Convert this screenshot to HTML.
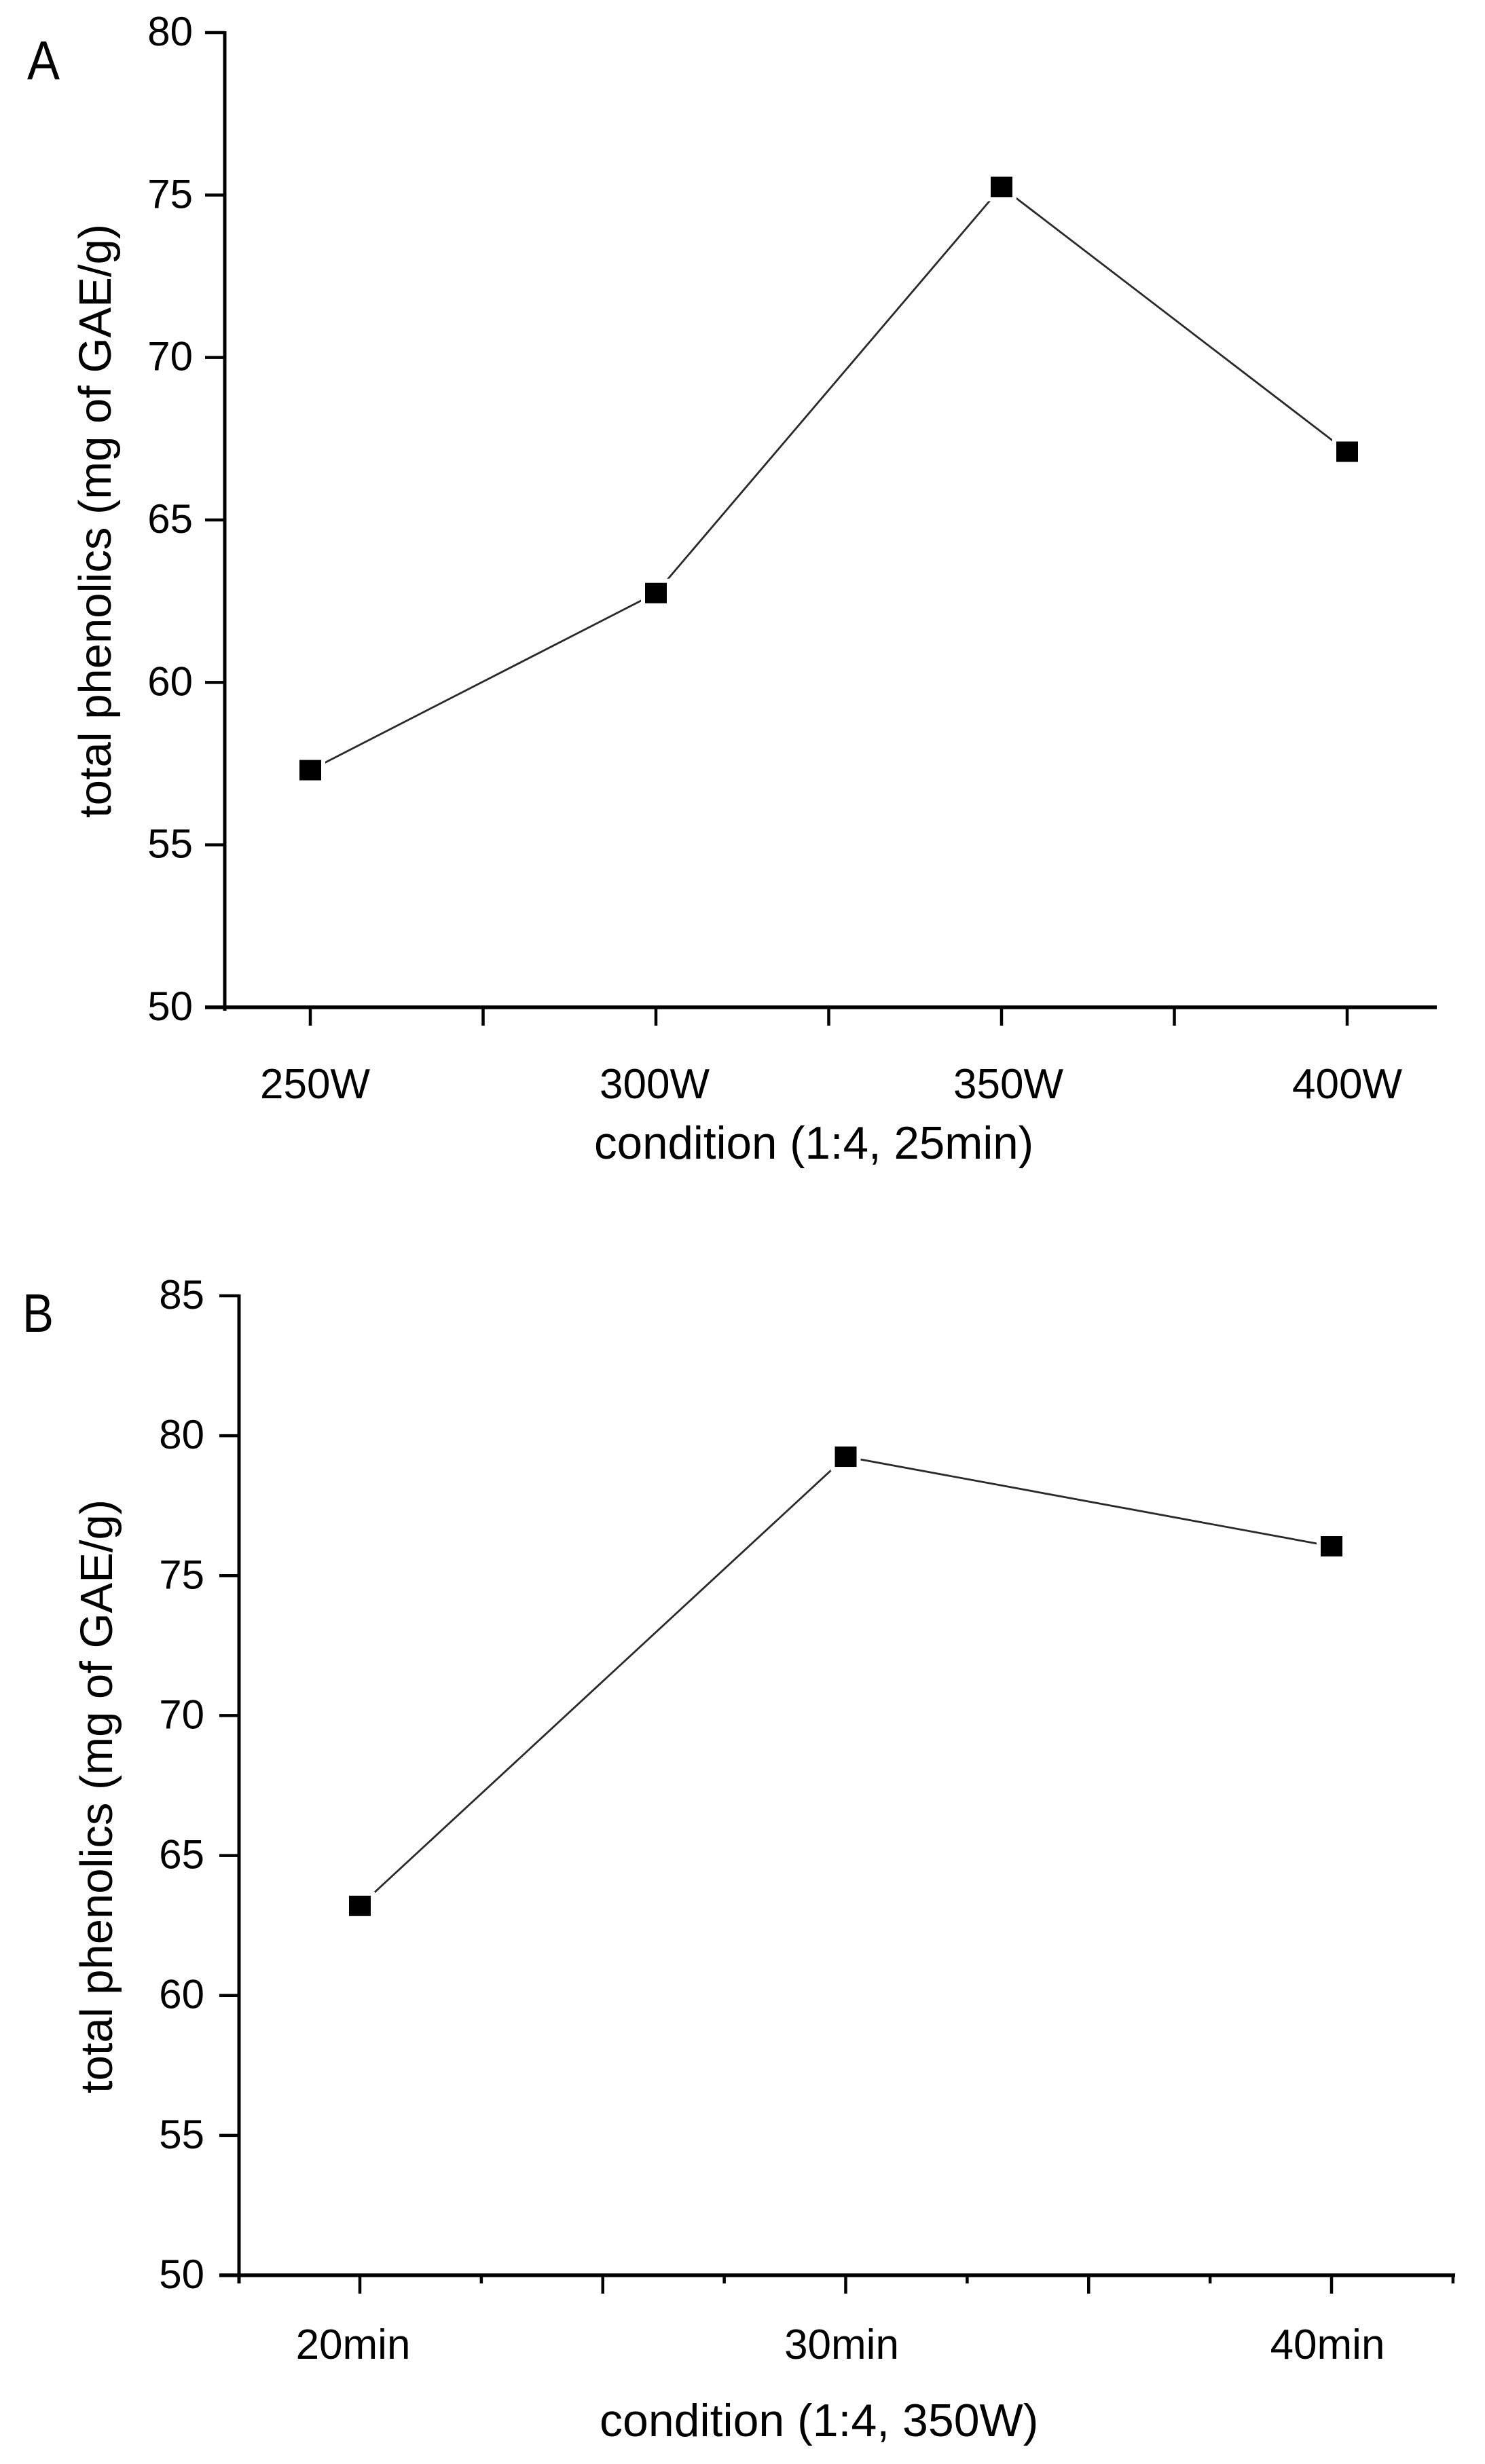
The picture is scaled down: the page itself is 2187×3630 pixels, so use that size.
<!DOCTYPE html>
<html lang="en">
<head>
<meta charset="utf-8">
<title>Total phenolics by extraction condition</title>
<style>
html,body{margin:0;padding:0;background:#fff;}
svg{display:block;}
text{font-family:"Liberation Sans",Arial,sans-serif;fill:#000;}
</style>
</head>
<body>
<svg id="chart" xmlns="http://www.w3.org/2000/svg" width="2187" height="3630" viewBox="0 0 2187 3630">
  <rect x="0" y="0" width="2187" height="3630" fill="#fff"/>
  <g id="panelA">
    <text x="40" y="117" font-size="81" textLength="48" lengthAdjust="spacingAndGlyphs">A</text>
    <text transform="translate(163,1205) rotate(-90)" font-size="67">total phenolics (mg of GAE/g)</text>
    <text x="875" y="1707" font-size="67.3">condition (1:4, 25min)</text>
  </g>
  <g id="panelB">
    <text x="33" y="1962" font-size="80" textLength="46" lengthAdjust="spacingAndGlyphs">B</text>
    <text transform="translate(165,3084) rotate(-90)" font-size="67">total phenolics (mg of GAE/g)</text>
    <text x="883" y="3589" font-size="68">condition (1:4, 350W)</text>
  </g>
</svg>
<script>
// Panel A data
const categoriesA = ["250W", "300W", "350W", "400W"];
const valuesA = [57.3, 62.75, 75.25, 67.1];
const yTicksA = [50, 55, 60, 65, 70, 75, 80];
// Panel B data
const categoriesB = ["20min", "30min", "40min"];
const valuesB = [63.2, 79.25, 76.05];
const yTicksB = [50, 55, 60, 65, 70, 75, 80, 85];

const NS = "http://www.w3.org/2000/svg";

function mk(parent, tag, attrs, txt) {
  const el = document.createElementNS(NS, tag);
  for (const k in attrs) el.setAttribute(k, attrs[k]);
  if (txt !== undefined) el.textContent = txt;
  parent.appendChild(el);
  return el;
}

function drawPanel(cfg) {
  const g = document.getElementById(cfg.groupId);
  const yScale = v => cfg.yBottom - (v - cfg.yMin) / (cfg.yMax - cfg.yMin) * (cfg.yBottom - cfg.yTop);
  const xScale = i => cfg.xFirst + i * cfg.xStep;

  // axes
  const yAxis = mk(g, "line", {x1: cfg.axisX, x2: cfg.axisX, y1: yScale(cfg.yMax) - 2, y2: cfg.yBottom + cfg.cornerDown, stroke: "#000", "stroke-width": 5});
  
  
  const xAxis = mk(g, "line", {x1: cfg.axisX - 29, x2: cfg.axisEnd, y1: cfg.yBottom, y2: cfg.yBottom, stroke: "#000", "stroke-width": 5.5});
  
  

  // y ticks and labels
  cfg.yTicks.forEach(function (t) {
    const tick = mk(g, "line", {x1: cfg.axisX - 29, x2: cfg.axisX, y1: yScale(t), y2: yScale(t), stroke: "#000", "stroke-width": 4.5});
    
    
    const label = mk(g, "text", {x: cfg.yLabelRight, y: yScale(t) + 19, "text-anchor": "end", "font-size": 60}, String(t));
    
    
  });

  // x ticks: majors at categories and midpoints, optional minors in between
  for (let k = 0; k <= cfg.tickCount; k++) {
    const x = xScale(0) + k * cfg.tickStep;
    const isMajor = k % cfg.minorEvery === 0;
    const tick = mk(g, "line", {x1: x, x2: x, y1: cfg.yBottom, y2: cfg.yBottom + (isMajor ? cfg.majorLen : cfg.minorLen), stroke: "#000", "stroke-width": 4.5});
    
    
  }
  if (cfg.trailingMinor) {
    const x = xScale(0) + cfg.tickCount * cfg.tickStep + cfg.tickStep;
    const tick = mk(g, "line", {x1: x, x2: x, y1: cfg.yBottom, y2: cfg.yBottom + cfg.minorLen, stroke: "#000", "stroke-width": 4.5});
    
    
  }

  // category labels
  cfg.categories.forEach(function (c, i) {
    const label = mk(g, "text", {x: xScale(i) + cfg.labelShift(i), y: cfg.xLabelBase, "text-anchor": "middle", "font-size": 62}, c);
    
    
  });

  // series line
  const pts = cfg.values.map((v, i) => xScale(i) + "," + yScale(v)).join(" ");
  const line = mk(g, "polyline", {points: pts, fill: "none", stroke: "#2a2a2a", "stroke-width": 2.8});
  
  

  // markers with a white halo that opens the gap around each point
  cfg.values.forEach(function (v, i) {
    const cx = xScale(i), cy = yScale(v);
    const halo = mk(g, "rect", {x: cx - 22, y: cy - 21, width: 44, height: 42, fill: "#fff"});
    
    
  });
  cfg.values.forEach(function (v, i) {
    const cx = xScale(i), cy = yScale(v);
    const marker = mk(g, "rect", {x: cx - 16, y: cy - 15, width: 32, height: 30, fill: "#000"});
    
    
  });
}

drawPanel({
  groupId: "panelA", prefix: "panel-a",
  categories: categoriesA, values: valuesA, yTicks: yTicksA,
  yMin: 50, yMax: 80, yTop: 48, yBottom: 1484,
  axisX: 331, axisEnd: 2116, cornerDown: 5,
  xFirst: 457, xStep: 509, tickStep: 254.5, tickCount: 6, minorEvery: 1,
  majorLen: 27, minorLen: 27, trailingMinor: false,
  yLabelRight: 284, xLabelBase: 1618,
  labelShift: i => [7, -2, 10, 0][i]
});

drawPanel({
  groupId: "panelB", prefix: "panel-b",
  categories: categoriesB, values: valuesB, yTicks: yTicksB,
  yMin: 50, yMax: 85, yTop: 1909, yBottom: 3352,
  axisX: 352, axisEnd: 2143, cornerDown: 12,
  xFirst: 530, xStep: 715.5, tickStep: 178.875, tickCount: 8, minorEvery: 2,
  majorLen: 27, minorLen: 12, trailingMinor: true,
  yLabelRight: 301, xLabelBase: 3475,
  labelShift: i => [-10, -6, -6][i]
});
</script>
</body>
</html>
